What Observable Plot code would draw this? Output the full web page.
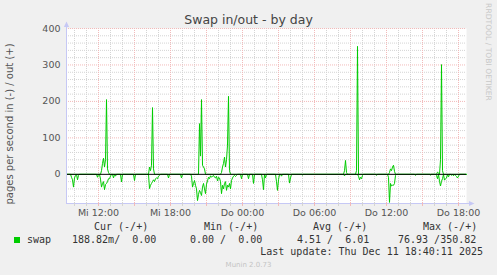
<!DOCTYPE html>
<html>
<head>
<meta charset="utf-8">
<script src="https://cdn.jsdelivr.net/npm/d3@7"></script>
<script src="https://cdn.jsdelivr.net/npm/@observablehq/plot@0.6"></script>
<style>
  html, body { margin: 0; padding: 0; background: #f0f0f0; }
  #wrap { position: relative; width: 497px; height: 275px; background: #f0f0f0; overflow: hidden; }
  .t { position: absolute; white-space: pre; line-height: 12px; }
  .sans { font-family: "DejaVu Sans", sans-serif; }
  .mono { font-family: "DejaVu Sans Mono", monospace; font-size: 10px; color: #333; }
</style>
</head>
<body>
<div id="wrap"></div>
<script>
// ---------- data ----------
const title = "Swap in/out - by day";
const yLabel = "pages per second in (-) / out (+)";
const startTime = "10 09:20";
const endTime = "11 18:40";
const stepMinutes = 5;

// swap out (+), sparse: all other 5-minute samples are 0
const outTimes = ["10 12:15","10 12:20","10 12:25","10 12:30","10 12:35","10 12:40","10 12:45","10 12:50",
  "10 16:15","10 16:20","10 16:25","10 16:30","10 16:35",
  "10 20:25","10 20:30","10 20:35","10 20:40","10 20:45","10 20:50",
  "10 22:15","10 22:20","10 22:25","10 22:30","10 22:35","10 22:40","10 22:45","10 22:50","10 22:55",
  "11 08:30","11 08:35","11 08:40",
  "11 09:30","11 09:35",
  "11 12:15","11 12:20","11 12:25","11 12:30","11 12:35","11 12:40",
  "11 16:15","11 16:20","11 16:30","11 16:35","11 16:40"];
const outValues = [10,30,44,20,40,205,15,5,
  20,10,25,183,15,
  139,50,205,25,20,15,
  5,20,30,47,20,40,80,214,10,
  10,38,5,
  10,351,
  5,15,10,20,25,8,
  6,4,40,301,10];

// swap in (-), magnitudes, sparse
const inTimes = ["10 09:45","10 09:50","10 09:55","10 10:00","10 10:05","10 10:15","10 10:20",
  "10 11:55","10 12:10","10 12:15","10 12:20","10 12:25","10 12:30","10 12:35","10 12:40","10 12:45","10 12:50","10 12:55","10 13:00","10 13:15","10 13:25","10 13:55","10 15:00",
  "10 16:15","10 16:20","10 16:25","10 16:30","10 16:35","10 16:40","10 16:45","10 16:50","10 16:55","10 17:00","10 17:05","10 17:50","10 18:55",
  "10 19:45","10 19:50","10 19:55","10 20:00","10 20:05","10 20:10","10 20:15","10 20:20","10 20:25","10 20:30","10 20:35","10 20:40","10 20:45","10 20:50","10 20:55","10 21:00","10 21:05","10 21:10","10 21:15","10 21:20","10 21:25","10 21:30","10 21:35","10 21:40","10 21:45","10 21:50","10 21:55","10 22:00","10 22:05","10 22:10","10 22:15","10 22:20","10 22:25","10 22:30","10 22:35","10 22:40","10 22:45","10 22:50","10 22:55","10 23:00","10 23:05","10 23:10","10 23:15","10 23:20","10 23:25","10 23:30",
  "10 23:55","11 00:30","11 00:55","11 01:40","11 01:45","11 01:55","11 02:50","11 02:55","11 03:00","11 03:15","11 03:55","11 04:00","11 05:00",
  "11 08:30","11 09:40","11 09:45","11 09:50","11 09:55","11 10:00","11 11:10",
  "11 12:10","11 12:15","11 12:20","11 12:25","11 12:30","11 12:35","11 12:40","11 12:45",
  "11 14:25","11 15:40","11 16:10","11 16:15","11 16:25","11 16:30","11 16:35","11 16:40","11 16:50","11 16:55","11 17:00","11 17:10","11 17:25","11 17:35","11 17:45","11 17:50","11 17:55","11 18:00","11 18:40"];
const inValues = [8,15,35,10,3,15,3,
  8,13,35,25,20,42,28,25,20,12,12,5,10,5,21,17,
  39,30,25,20,15,20,12,10,12,5,3,10,10,
  5,35,25,17,30,40,72,55,44,50,58,35,25,40,53,27,18,8,12,4,8,5,3,8,10,5,18,8,10,20,53,30,40,25,20,44,30,35,25,40,17,10,5,3,6,3,
  12,12,25,15,42,10,20,44,15,5,24,10,2,
  4,5,15,8,12,3,3,
  8,77,25,32,30,30,25,3,
  3,2,3,12,19,32,19,12,16,12,10,7,3,4,3,6,10,5,0.19];

const yTicks = [0, 100, 200, 300, 400];
const yDomain = [-80, 400];
const xTickTimes = ["10 12:00","10 18:00","11 00:00","11 06:00","11 12:00","11 18:00"];
const xTickLabels = ["Mi 12:00","Mi 18:00","Do 00:00","Do 06:00","Do 12:00","Do 18:00"];

const seriesName = "swap";
const legendHeaders = ["Cur (-/+)","Min (-/+)","Avg (-/+)","Max (-/+)"];
const legendValues = ["188.82m/  0.00","0.00 /  0.00","4.51 /  6.01","76.93 /350.82"];
const lastUpdate = "Last update: Thu Dec 11 18:40:11 2025";
const footer = "Munin 2.0.73";
const watermark = "RRDTOOL / TOBI OETIKER";

// ---------- build ----------
const parseT = s => { const [d, hm] = s.split(" "); const [h, m] = hm.split(":"); return new Date(2025, 11, +d, +h, +m); };
const t0 = parseT(startTime), t1 = parseT(endTime);
function buildSeries(times, values, sign) {
  const m = new Map(times.map((t, i) => [+parseT(t), values[i]]));
  const out = [];
  for (let t = +t0; t <= +t1; t += stepMinutes * 60000) out.push({t: new Date(t), v: sign * (m.get(t) ?? 0)});
  return out;
}
const outSeries = buildSeries(outTimes, outValues, 1);
const inSeries = buildSeries(inTimes, inValues, -1);

const hours = d3.timeHour.range(t0, t1);
const majorX = hours.filter(d => d.getHours() % 3 === 0);
const minorX = hours.filter(d => d.getHours() % 3 !== 0);
const majorY = d3.range(100, 401, 100);
const minorY = d3.range(-60, 401, 20).filter(v => v % 100 !== 0);
const tickDates = xTickTimes.map(parseT);
const labelMap = new Map(tickDates.map((d, i) => [+d, xTickLabels[i]]));

const axisColor = "#c6c8f5";
const minorColor = "#d4d4d4";
const majorColor = "#f2baba";
const upTri = {draw(c, size) { c.moveTo(0, -3); c.lineTo(2.6, 2.5); c.lineTo(-2.6, 2.5); c.closePath(); }};
const rightTri = {draw(c, size) { c.moveTo(3, 0); c.lineTo(-2.5, -2.6); c.lineTo(-2.5, 2.6); c.closePath(); }};

const chart = Plot.plot({
  width: 497, height: 275,
  marginLeft: 66, marginRight: 31, marginTop: 28, marginBottom: 72,
  style: {background: "transparent", fontFamily: "DejaVu Sans", fontSize: "9.5px", color: "#555", overflow: "visible"},
  x: {type: "time", domain: [t0, t1], label: null},
  y: {domain: yDomain, label: null},
  marks: [
    Plot.frame({fill: "white", stroke: "none"}),
    Plot.ruleY(minorY, {stroke: minorColor, strokeDasharray: "1,1"}),
    Plot.ruleX(minorX, {stroke: minorColor, strokeDasharray: "1,1"}),
    Plot.ruleY(majorY, {stroke: majorColor, strokeDasharray: "1,1"}),
    Plot.ruleX(majorX, {stroke: majorColor, strokeDasharray: "1,1"}),
    Plot.line(inSeries, {x: "t", y: "v", stroke: "#00cc00", strokeWidth: 1}),
    Plot.line(outSeries, {x: "t", y: "v", stroke: "#00cc00", strokeWidth: 1}),
    Plot.ruleY([0], {stroke: "black", strokeWidth: 1}),
    // axes lines with arrows
    Plot.ruleX([t0], {stroke: axisColor, insetTop: -3}),
    Plot.ruleY([yDomain[0]], {stroke: axisColor, insetRight: -4}),
    Plot.dot([t0], {x: d => d, frameAnchor: "top", symbol: upTri, fill: axisColor, stroke: "none", dy: -4}),
    Plot.dot([yDomain[0]], {y: d => d, frameAnchor: "right", symbol: rightTri, fill: axisColor, stroke: "none", dx: 5}),
    Plot.axisX(minorX, {tickSize: 3, tickFormat: () => "", stroke: minorColor, label: null}),
    Plot.axisX(majorX, {tickSize: 3, tickFormat: () => "", stroke: majorColor, label: null}),
    Plot.axisX(tickDates, {tickSize: 0, tickPadding: 6, tickFormat: d => labelMap.get(+d), fill: "#555", fontSize: 9.5, label: null}),
    Plot.axisY(yTicks, {tickSize: 0, tickPadding: 6, tickFormat: d => String(d), fill: "#555", fontSize: 9.5, label: null})
  ]
});
chart.style.position = "absolute";
chart.style.left = "0px";
chart.style.top = "0px";
const wrap = document.getElementById("wrap");
wrap.appendChild(chart);

function addText(txt, cls, css) {
  const el = document.createElement("div");
  el.className = "t " + cls;
  el.textContent = txt;
  Object.assign(el.style, css);
  wrap.appendChild(el);
  return el;
}
addText(title, "sans", {left: "0px", width: "497px", textAlign: "center", top: "12px", fontSize: "12.5px", lineHeight: "15px", color: "#444"});
addText(yLabel, "sans", {left: "10px", top: "124px", fontSize: "10px", color: "#555", transform: "translate(-50%,-50%) rotate(-90deg)"});
addText(watermark, "sans", {left: "488px", top: "52px", fontSize: "7.6px", color: "#c8c8c8", transform: "translate(-50%,-50%) rotate(90deg)"});
const headX = [94, 204, 313, 423];
legendHeaders.forEach((h, i) => addText(h, "mono", {left: headX[i] + "px", top: "221px"}));
const sq = document.createElement("div");
Object.assign(sq.style, {position: "absolute", left: "14px", top: "237px", width: "6px", height: "6px", background: "#00cc00"});
wrap.appendChild(sq);
addText(seriesName, "mono", {left: "27px", top: "234px"});
const valX = [72, 190, 297, 398];
legendValues.forEach((v, i) => addText(v, "mono", {left: valX[i] + "px", top: "234px"}));
addText(lastUpdate, "mono", {right: (497 - 483) + "px", top: "246px"});
addText(footer, "sans", {left: "0px", width: "497px", textAlign: "center", top: "259px", fontSize: "7px", color: "#c4c4c4"});
</script>
</body>
</html>
